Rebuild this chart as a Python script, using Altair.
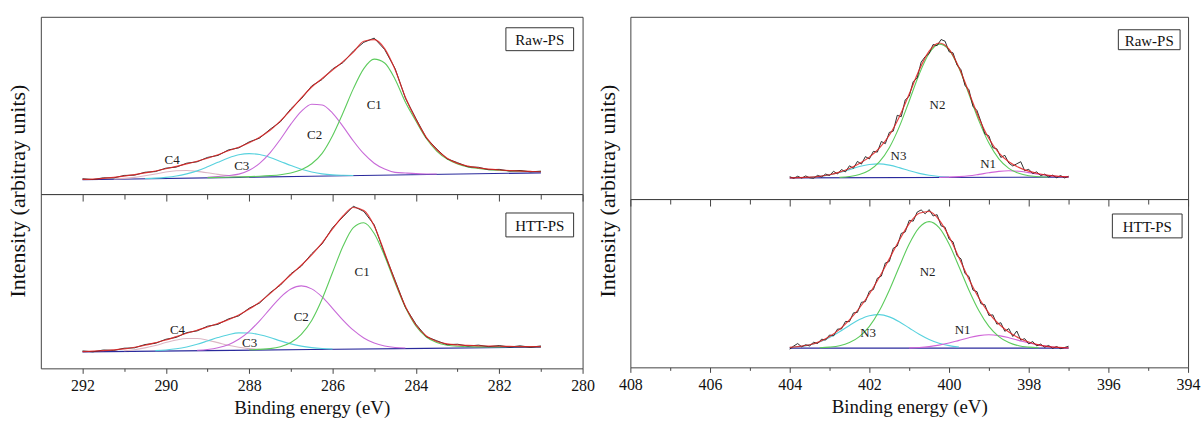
import altair as alt
import pandas as pd

FONT = "Liberation Serif"

# ---------------- sampling grids (binding energy, eV) ----------------
GRID_C = [292.0, 291.75, 291.5, 291.25, 291.0, 290.75, 290.5, 290.25, 290.0, 289.75,
          289.5, 289.25, 289.0, 288.75, 288.5, 288.25, 288.0, 287.75, 287.5, 287.25,
          287.0, 286.75, 286.5, 286.25, 286.0, 285.75, 285.5, 285.25, 285.0, 284.75,
          284.5, 284.25, 284.0, 283.75, 283.5, 283.25, 283.0, 282.75, 282.5, 282.25,
          282.0, 281.75, 281.5, 281.25, 281.0]
GRID_N = [404.0, 403.75, 403.5, 403.25, 403.0, 402.75, 402.5, 402.25, 402.0, 401.75,
          401.5, 401.25, 401.0, 400.75, 400.5, 400.25, 400.0, 399.75, 399.5, 399.25,
          399.0, 398.75, 398.5, 398.25, 398.0, 397.75, 397.5, 397.25, 397.0]
RAW_N_E = [404.0, 403.9, 403.8, 403.7, 403.6, 403.5, 403.4, 403.3, 403.2, 403.1,
           403.0, 402.9, 402.8, 402.7, 402.6, 402.5, 402.4, 402.3, 402.2, 402.1,
           402.0, 401.9, 401.8, 401.7, 401.6, 401.5, 401.4, 401.3, 401.2, 401.1,
           401.0, 400.9, 400.8, 400.7, 400.6, 400.5, 400.4, 400.3, 400.2, 400.1,
           400.0, 399.9, 399.8, 399.7, 399.6, 399.5, 399.4, 399.3, 399.2, 399.1,
           399.0, 398.9, 398.8, 398.7, 398.6, 398.5, 398.4, 398.3, 398.2, 398.1,
           398.0, 397.9, 397.8, 397.7, 397.6, 397.5, 397.4, 397.3, 397.2, 397.1, 397.0]

TICKS_C = [292, 291, 290, 289, 288, 287, 286, 285, 284, 283, 282, 281, 280]
TICKS_N = [408, 407, 406, 405, 404, 403, 402, 401, 400, 399, 398, 397, 396, 395, 394]

# ---------------- C1s, Raw-PS ----------------
A_ENV = [14.7, 15.1, 15.8, 16.8, 18.0, 19.5, 21.2, 23.2, 25.4, 27.8, 30.3, 33.0, 36.0, 39.5,
         43.5, 47.0, 51.5, 57.0, 64.0, 73.5, 84.5, 96.5, 107.5, 116.0, 124.5, 133.0, 142.5,
         153.5, 155.0, 146.0, 125.0, 97.0, 75.0, 57.0, 44.5, 36.0, 30.8, 28.0, 26.3, 25.0,
         24.2, 23.6, 23.1, 22.7, 22.4]
A_RAW = [15.4, 14.6, 16.3, 16.2, 18.7, 19.0, 21.9, 22.6, 26.0, 27.1, 31.0, 32.4, 36.8, 38.8,
         44.3, 46.4, 52.4, 56.2, 65.0, 72.6, 85.6, 95.6, 108.6, 115.1, 125.6, 132.0, 143.6,
         152.4, 156.6, 145.2, 126.1, 96.2, 75.9, 56.3, 45.3, 35.4, 31.5, 27.4, 26.9, 24.5,
         24.8, 23.1, 23.7, 22.3, 23.0]
A_BASE_E = [292.0, 286.5, 281.0]
A_BASE_V = [14.4, 17.9, 21.3]
A_C1_E = [289.0, 288.5, 288.0, 287.75, 287.5, 287.25, 287.0, 286.75, 286.5, 286.25, 286.0,
          285.75, 285.5, 285.25, 285.0, 284.75, 284.5, 284.25, 284.0, 283.75, 283.5, 283.25,
          283.0, 282.75, 282.5, 282.25, 282.0, 281.75, 281.5, 281.25, 281.0]
A_C1_V = [16.5, 16.9, 17.5, 17.9, 18.5, 19.4, 21.1, 24.3, 30.4, 40.9, 58.6, 81.4, 105.9,
          126.0, 135.5, 131.6, 115.4, 92.2, 73.4, 55.8, 43.2, 35.1, 30.1, 27.3, 25.7, 24.5,
          23.9, 23.3, 23.0, 22.7, 22.6]
A_C2_E = [289.0, 288.75, 288.5, 288.25, 288.0, 287.75, 287.5, 287.25, 287.0, 286.75, 286.5,
          286.25, 286.0, 285.75, 285.5, 285.25, 285.0, 284.75, 284.5, 284.25, 284.0, 283.75,
          283.5]
A_C2_V = [16.9, 17.65, 18.6, 20.0, 23.9, 30.9, 41.4, 55.1, 70.2, 83.0, 90.2, 89.5, 81.3,
          68.0, 53.3, 40.5, 31.0, 25.1, 21.8, 21.1, 20.5, 20.2, 20.1]
A_C3_E = [290.5, 290.25, 290.0, 289.75, 289.5, 289.25, 289.0, 288.75, 288.5, 288.25, 288.0,
          287.75, 287.5, 287.25, 287.0, 286.75, 286.5, 286.25, 286.0, 285.75, 285.5]
A_C3_V = [15.6, 16.0, 16.8, 18.1, 20.3, 23.3, 27.4, 31.9, 36.2, 39.4, 40.6, 39.7, 36.8, 32.8,
          28.7, 24.9, 22.2, 20.3, 19.3, 18.9, 18.7]
A_C4_E = [291.25, 291.0, 290.75, 290.5, 290.25, 290.0, 289.75, 289.5, 289.25, 289.0, 288.75,
          288.5, 288.25, 288.0]
A_C4_V = [15.2, 15.8, 16.8, 18.35, 20.2, 22.2, 23.4, 23.7, 22.8, 21.4, 19.75, 18.5, 17.65, 17.3]
A_LAB_T = ["C1", "C2", "C3", "C4"]
A_LAB_E = [285.0, 286.43, 288.18, 289.85]
A_LAB_V = [89.7, 59.7, 28.0, 33.7]

# ---------------- C1s, HTT-PS ----------------
B_ENV = [16.8, 17.2, 17.8, 18.6, 19.5, 21.2, 23.2, 25.8, 28.5, 31.8, 35.2, 38.3, 41.5, 45.0,
         48.8, 53.5, 59.5, 66.5, 75.0, 84.5, 94.0, 103.5, 114.0, 126.0, 140.0, 153.0, 161.5,
         158.5, 143.0, 116.0, 87.5, 62.0, 43.5, 32.5, 27.0, 24.5, 23.5, 23.0, 22.6, 22.4,
         22.2, 22.0, 21.9, 21.8, 21.8]
B_RAW = [17.5, 16.6, 18.4, 18.0, 20.2, 20.6, 23.9, 25.1, 29.2, 31.1, 35.9, 37.6, 42.3, 44.2,
         49.6, 52.7, 60.4, 65.6, 75.9, 83.6, 95.0, 102.6, 115.1, 125.0, 141.2, 152.1, 162.8,
         157.6, 144.1, 115.0, 88.5, 61.2, 44.4, 31.8, 27.7, 23.8, 24.2, 22.4, 23.3, 21.8,
         22.9, 21.4, 22.6, 21.2, 22.5]
B_BASE_E = [292.0, 286.5, 281.0]
B_BASE_V = [16.5, 18.9, 21.3]
B_C1_E = [288.0, 287.5, 287.25, 287.0, 286.75, 286.5, 286.25, 286.0, 285.75, 285.5, 285.25,
          285.0, 284.75, 284.5, 284.25, 284.0, 283.75, 283.5, 283.25, 283.0, 282.5, 282.0,
          281.0]
B_C1_V = [18.6, 19.8, 21.7, 25.9, 34.2, 48.1, 69.6, 96.2, 122.5, 141.3, 146.2, 135.4, 112.9,
          85.9, 61.1, 42.6, 31.5, 25.9, 23.2, 22.2, 21.6, 21.6, 21.7]
B_C2_E = [289.25, 289.0, 288.75, 288.5, 288.25, 288.0, 287.75, 287.5, 287.25, 287.0, 286.75,
          286.5, 286.25, 286.0, 285.75, 285.5, 285.25, 285.0, 284.75, 284.5, 284.25]
B_C2_V = [18.2, 19.0, 20.7, 23.8, 29.2, 37.2, 47.7, 59.7, 71.3, 79.6, 82.8, 79.8, 71.7, 60.3,
          48.5, 38.3, 30.5, 25.4, 22.5, 21.0, 20.4]
B_C3_E = [290.25, 290.0, 289.75, 289.5, 289.25, 289.0, 288.75, 288.5, 288.25, 288.0, 287.75,
          287.5, 287.25, 287.0, 286.75, 286.5, 286.25, 286.0]
B_C3_V = [17.8, 18.45, 19.6, 21.5, 24.2, 27.5, 30.9, 33.8, 35.6, 35.5, 33.65, 30.9, 27.6,
          24.6, 22.3, 20.8, 19.9, 19.5]
B_C4_E = [291.0, 290.75, 290.5, 290.25, 290.0, 289.75, 289.5, 289.25, 289.0, 288.75, 288.5,
          288.25, 288.0, 287.75]
B_C4_V = [17.7, 18.7, 20.55, 23.0, 25.9, 28.5, 30.0, 29.9, 28.3, 25.8, 23.2, 21.2, 19.8, 19.05]
B_LAB_T = ["C1", "C2", "C3", "C4"]
B_LAB_E = [285.29, 286.75, 287.99, 289.72]
B_LAB_V = [96.3, 51.3, 25.3, 38.0]

# ---------------- N1s, Raw-PS ----------------
C_ENV = [21.3, 21.5, 21.95, 22.8, 24.4, 27.0, 30.75, 35.7, 42.1, 51.1, 64.05, 82.45, 105.4,
         129.5, 148.55, 156.7, 150.6, 132.0, 106.85, 81.5, 60.8, 46.4, 37.35, 31.8, 28.0,
         25.4, 23.75, 22.75, 22.3]
C_RAW = [22.5, 20.8, 22.9, 21.0, 23.2, 21.4, 20.9, 23.8, 22.2, 25.1,
         23.6, 27.9, 25.2, 29.6, 27.3, 33.4, 30.9, 37.8, 35.1, 42.6,
         40.3, 47.9, 47.1, 57.8, 55.6, 66.9, 68.2, 84.1, 82.7, 99.6,
         103.2, 117.9, 121.6, 137.5, 143.0, 146.1, 155.2, 154.0, 160.2, 158.5,
         147.9, 146.8, 134.6, 129.8, 114.1, 109.7, 93.1, 89.0, 77.8, 65.4,
         63.5, 51.6, 50.4, 41.8, 43.9, 36.1, 33.2, 35.4, 37.5, 28.4,
         29.9, 25.6, 27.3, 23.5, 25.0, 22.2, 24.0, 21.4, 23.6, 21.2, 22.9]
C_BASE_E = [404.0, 397.0]
C_BASE_V = [21.3, 22.0]
C_N2_E = [402.75, 402.5, 402.25, 402.0, 401.75, 401.5, 401.25, 401.0, 400.75, 400.5, 400.25,
          400.0, 399.75, 399.5, 399.25, 399.0, 398.75, 398.5, 398.25, 398.0, 397.75, 397.5]
C_N2_V = [21.8, 22.65, 24.6, 28.9, 37.3, 51.55, 72.5, 98.5, 125.3, 146.35, 155.6, 149.9,
          131.25, 105.25, 78.5, 56.2, 40.4, 30.85, 25.8, 23.4, 22.4, 22.15]
C_N3_E = [403.5, 403.25, 403.0, 402.75, 402.5, 402.25, 402.0, 401.75, 401.5, 401.25, 401.0,
          400.75, 400.5, 400.25, 400.0]
C_N3_V = [21.95, 22.8, 24.3, 26.6, 29.55, 32.6, 34.7, 35.3, 34.05, 31.55, 28.5, 25.8, 23.85,
          22.7, 22.1]
C_N1_E = [400.25, 400.0, 399.75, 399.5, 399.25, 399.0, 398.75, 398.5, 398.25, 398.0, 397.75,
          397.5, 397.25, 397.0]
C_N1_V = [21.8, 22.0, 22.5, 23.35, 24.8, 26.4, 27.8, 28.35, 27.9, 26.5, 24.9, 23.55, 22.7, 22.3]
C_LAB_T = ["N2", "N3", "N1"]
C_LAB_E = [400.29, 401.27, 399.02]
C_LAB_V = [94.7, 43.0, 34.7]

# ---------------- N1s, HTT-PS ----------------
D_ENV = [20.0, 21.0, 22.7, 25.85, 30.9, 38.1, 47.7, 59.6, 73.7, 90.4, 108.9, 127.6, 144.3,
         154.8, 156.5, 148.1, 131.4, 110.1, 88.5, 69.6, 54.5, 43.5, 35.4, 29.5, 25.4, 22.65,
         20.9, 20.0, 19.6]
D_RAW = [18.2, 21.4, 23.9, 20.6, 22.7, 21.5, 25.2, 23.9, 28.3, 27.4,
         32.5, 31.6, 38.4, 38.6, 46.1, 45.9, 54.7, 55.2, 65.3, 66.0,
         76.4, 78.1, 89.5, 91.6, 104.8, 106.3, 119.6, 121.8, 134.5, 136.0,
         147.6, 146.8, 155.9, 158.1, 154.2, 158.4, 152.0, 153.3, 142.1, 140.7,
         128.9, 126.0, 112.2, 108.9, 94.3, 91.2, 77.6, 76.0, 63.9, 62.8,
         52.1, 52.7, 43.4, 44.8, 36.2, 38.9, 31.0, 36.5, 27.4, 28.8,
         23.6, 25.9, 21.5, 23.4, 20.2, 22.0, 19.1, 20.9, 18.8, 19.9, 21.2]
D_BASE_E = [404.0, 397.0]
D_BASE_V = [19.3, 19.3]
D_N2_E = [403.25, 403.0, 402.75, 402.5, 402.25, 402.0, 401.75, 401.5, 401.25, 401.0, 400.75,
          400.5, 400.25, 400.0, 399.75, 399.5, 399.25, 399.0, 398.75, 398.5, 398.25, 398.0,
          397.75]
D_N2_V = [19.65, 20.3, 21.7, 24.9, 30.9, 41.1, 56.8, 77.5, 101.1, 123.8, 140.2, 146.3, 140.2,
          123.8, 101.1, 77.5, 56.8, 41.1, 30.9, 24.9, 21.7, 20.3, 19.65]
D_N3_E = [404.0, 403.75, 403.5, 403.25, 403.0, 402.75, 402.5, 402.25, 402.0, 401.75, 401.5,
          401.25, 401.0, 400.75, 400.5, 400.25, 400.0, 399.75]
D_N3_V = [20.0, 20.9, 22.6, 25.5, 29.9, 35.7, 42.1, 48.0, 51.9, 52.9, 50.7, 45.8, 39.5, 33.2,
          28.0, 24.2, 21.8, 20.5]
D_N1_E = [401.0, 400.75, 400.5, 400.25, 400.0, 399.75, 399.5, 399.25, 399.0, 398.75, 398.5,
          398.25, 398.0, 397.75, 397.5, 397.25, 397.0]
D_N1_V = [19.6, 20.0, 20.8, 22.3, 24.4, 27.1, 29.8, 31.9, 32.7, 31.9, 29.8, 27.1, 24.4, 22.3,
          20.8, 20.0, 19.6]
D_LAB_T = ["N2", "N3", "N1"]
D_LAB_E = [400.54, 402.03, 399.66]
D_LAB_V = [95.3, 34.3, 37.0]

# ---------------- styling ----------------
SERIES = ["base", "C1", "C2", "C3", "C4", "N1", "N2", "N3"]
SERIES_COLORS = ["#2a2a9c", "#5ccb5c", "#c86ad8", "#58d2de", "#dcb6c4", "#d064d8",
                 "#5ccb5c", "#58d2de"]
FIT_COLOR = "#e02222"
RAW_COLOR = "#1a1a1a"
FRAME = "#444444"
MAJOR = "datum.value % 2 == 0"


def long_df(named):
    rows = []
    for name, es, vs in named:
        for e, v in zip(es, vs):
            rows.append({"e": e, "v": v, "s": name})
    return pd.DataFrame(rows)


def subpanel(comps, env_e, env_v, raw_e, raw_v, labs, tag, box, xdom, ticks, w, h, top):
    xs = alt.Scale(domain=xdom, reverse=True, nice=False, zero=False)
    ys = alt.Scale(domain=[0, h], nice=False, zero=False)
    if top:
        xaxis = alt.Axis(values=ticks, labels=False, title=None, domain=False, grid=False,
                         tickSize={"condition": {"test": MAJOR, "value": 7}, "value": 5},
                         tickColor=FRAME, tickWidth=1)
        yaxis = alt.Axis(title="Intensity (arbitray units)", labels=False, ticks=False,
                         domain=False, grid=False, titleY=174.5, titlePadding=11,
                         titleFont=FONT, titleFontSize=22, titleFontWeight="normal",
                         titleColor="#111111")
    else:
        xaxis = alt.Axis(values=ticks, labelExpr=MAJOR + " ? datum.label : ''",
                         title="Binding energy (eV)", domain=False, grid=False,
                         tickSize={"condition": {"test": MAJOR, "value": 5}, "value": 3},
                         tickColor=FRAME, tickWidth=1, labelFlush=False, labelOverlap=False,
                         labelFont=FONT, labelFontSize=16, labelColor="#111111",
                         labelPadding=4, titleFont=FONT, titleFontSize=19,
                         titleFontWeight="normal", titleColor="#111111", titlePadding=5)
        yaxis = None
    X = alt.X("e:Q", scale=xs, axis=xaxis)
    Y = alt.Y("v:Q", scale=ys, axis=yaxis)

    comp_layer = alt.Chart(long_df(comps)).mark_line(
        interpolate="monotone", strokeWidth=1.1
    ).encode(
        x=X, y=Y,
        color=alt.Color("s:N", scale=alt.Scale(domain=SERIES, range=SERIES_COLORS), legend=None),
        detail="s:N",
    )
    raw_layer = alt.Chart(pd.DataFrame({"e": raw_e, "v": raw_v})).mark_line(
        color=RAW_COLOR, strokeWidth=0.9
    ).encode(x=X, y=Y)
    fit_layer = alt.Chart(pd.DataFrame({"e": env_e, "v": env_v})).mark_line(
        color=FIT_COLOR, strokeWidth=1.2, interpolate="monotone", opacity=0.85
    ).encode(x=X, y=Y)
    lab_layer = alt.Chart(pd.DataFrame({"e": labs[1], "v": labs[2], "t": labs[0]})).mark_text(
        font=FONT, fontSize=13, color="#222222"
    ).encode(x=X, y=Y, text="t:N")
    x0, x1, y0, y1 = box
    tag_df = pd.DataFrame({"t": [tag]})
    box_layer = alt.Chart(tag_df).mark_rect(
        fill="white", stroke="#333333", strokeWidth=1
    ).encode(x=alt.value(x0), x2=alt.value(x1), y=alt.value(y0), y2=alt.value(y1))
    tag_layer = alt.Chart(tag_df).mark_text(
        font=FONT, fontSize=15, color="#111111", baseline="middle", align="center"
    ).encode(x=alt.value((x0 + x1) / 2), y=alt.value((y0 + y1) / 2 + 1), text="t:N")

    return alt.layer(comp_layer, raw_layer, fit_layer, lab_layer, box_layer, tag_layer).properties(
        width=w, height=h
    )


pA = subpanel([("base", A_BASE_E, A_BASE_V), ("C4", A_C4_E, A_C4_V), ("C3", A_C3_E, A_C3_V),
               ("C2", A_C2_E, A_C2_V), ("C1", A_C1_E, A_C1_V)],
              GRID_C, A_ENV, GRID_C, A_RAW, (A_LAB_T, A_LAB_E, A_LAB_V), "Raw-PS",
              (467, 535, 11, 34), [280, 293], TICKS_C, 544, 178, True)
pB = subpanel([("base", B_BASE_E, B_BASE_V), ("C4", B_C4_E, B_C4_V), ("C3", B_C3_E, B_C3_V),
               ("C2", B_C2_E, B_C2_V), ("C1", B_C1_E, B_C1_V)],
              GRID_C, B_ENV, GRID_C, B_RAW, (B_LAB_T, B_LAB_E, B_LAB_V), "HTT-PS",
              (467, 535, 19, 43), [280, 293], TICKS_C, 544, 175, False)
pC = subpanel([("base", C_BASE_E, C_BASE_V), ("N3", C_N3_E, C_N3_V), ("N1", C_N1_E, C_N1_V),
               ("N2", C_N2_E, C_N2_V)],
              GRID_N, C_ENV, RAW_N_E, C_RAW, (C_LAB_T, C_LAB_E, C_LAB_V), "Raw-PS",
              (490, 552, 13, 33), [394, 408], TICKS_N, 560, 183, True)
pD = subpanel([("base", D_BASE_E, D_BASE_V), ("N3", D_N3_E, D_N3_V), ("N1", D_N1_E, D_N1_V),
               ("N2", D_N2_E, D_N2_V)],
              GRID_N, D_ENV, RAW_N_E, D_RAW, (D_LAB_T, D_LAB_E, D_LAB_V), "HTT-PS",
              (484, 554, 15, 39), [394, 408], TICKS_N, 560, 169, False)

left = alt.VConcatChart(vconcat=[pA, pB], spacing=0, bounds="flush")
right = alt.VConcatChart(vconcat=[pC, pD], spacing=0, bounds="flush")

chart = alt.HConcatChart(hconcat=[left, right], spacing=0).properties(
    padding={"left": 6, "top": 15, "right": 0, "bottom": 4},
    background="white",
).configure_view(
    stroke=FRAME, strokeWidth=1
).configure_axis(
    labelFont=FONT, titleFont=FONT, titleFontWeight="normal"
)

chart.save("out.html", embed_options={"renderer": "svg", "actions": False})
